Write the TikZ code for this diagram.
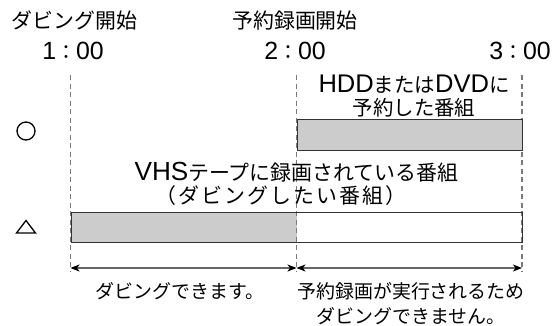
\documentclass[tikz,border=0pt]{standalone}
\usepackage{fontspec}
\setmainfont{Noto Sans CJK JP}
\newfontfamily\lat[Scale=1.25]{Liberation Sans}
\newfontfamily\widecjk[LetterSpace=10]{Noto Sans CJK JP}
\usetikzlibrary{arrows.meta}
\definecolor{guidegray}{HTML}{7A7A7A}
\definecolor{barfill}{HTML}{CCCCCC}
\definecolor{barline}{HTML}{333333}
\definecolor{dimgray}{HTML}{666666}
\begin{document}
\begin{tikzpicture}[x=1bp,y=-1bp,
  lbl/.style={inner sep=0pt, font=\fontsize{20}{23}\selectfont, align=center},
  guide/.style={draw=guidegray, line width=1.2bp, dash pattern=on 5bp off 3.5bp},
  barbox/.style={draw=barline, line width=1.2bp, inner sep=0pt, anchor=north west},
  dim/.style={draw=dimgray, line width=1.2bp, {Stealth[length=9bp,width=7bp,inset=2.5bp,color=black]}-{Stealth[length=9bp,width=7bp,inset=2.5bp,color=black]}},
  symmark/.style={draw=black, line width=1.3bp}
]
\useasboundingbox (0,0) rectangle (559,325);

% guide coordinates
\coordinate (g1t) at (70.5,75);  \coordinate (g1b) at (70.5,272);
\coordinate (g2t) at (296.5,75); \coordinate (g2b) at (296.5,272);
\coordinate (g3t) at (522,75);   \coordinate (g3b) at (522,272);

% bottom bar gray part
\node[inner sep=0pt, anchor=north west, fill=barfill, minimum width=226bp, minimum height=30bp] (vhsfill) at (70.5,212) {};

% dashed guides
\draw[guide] (g1t) -- (g1b);
\draw[guide] (g2t) -- (g2b);
\draw[guide] (g3t) -- (g3b);

% top bar
\node[barbox, fill=barfill, minimum width=225.5bp, minimum height=31bp] (recbar) at (296.5,119) {};
% bottom bar outline
\node[barbox, minimum width=451.5bp, minimum height=30bp] (vhsbar) at (70.5,212) {};

% dimension arrows
\coordinate (a1) at (70.5,268);
\coordinate (a2) at (296.5,268);
\coordinate (a3) at (522,268);
\draw[dim] (a1) -- (a2);
\draw[dim] (a2) -- (a3);

% header labels
\node[lbl, font=\fontsize{21}{24}\selectfont] (hdub) at (74.5,21) {ダビング開始};
\node[lbl, font=\fontsize{21}{24}\selectfont] (hrec) at (295,21) {予約録画開始};
\node[lbl] (tm1) at (73,51) {{\lat 1}：{\lat 00}};
\node[lbl] (tm2) at (295,51) {{\lat 2}：{\lat 00}};
\node[lbl] (tm3) at (520,51) {{\lat 3}：{\lat 00}};

% bar labels
\node[lbl, font=\fontsize{20.5}{22.5}\selectfont] (hddlbl) at (414,96) {{\lat HDD}または{\lat DVD}に\\予約した番組};
\node[lbl, font=\fontsize{21}{23}\selectfont] (vhslbla) at (296.5,172.5) {{\lat VHS}テープに録画されている番組};
\node[lbl, font=\fontsize{21}{23}\selectfont] (vhslblb) at (281,195.5) {\widecjk （ダビングしたい番組）};

% symbols
\node[symmark, circle, minimum size=18bp, inner sep=0pt] (okmark) at (26,131) {};
\draw[symmark, line join=miter] (16.5,233) -- (26,220.5) -- (35.5,233) -- cycle;

% bottom labels
\node[lbl, font=\fontsize{19}{25}\selectfont] (canlbl) at (180,291.5) {ダビングできます。};
\node[lbl, font=\fontsize{19}{25}\selectfont] (cantlbl) at (411,304) {予約録画が実行されるため\\ダビングできません。};
\end{tikzpicture}
\end{document}
